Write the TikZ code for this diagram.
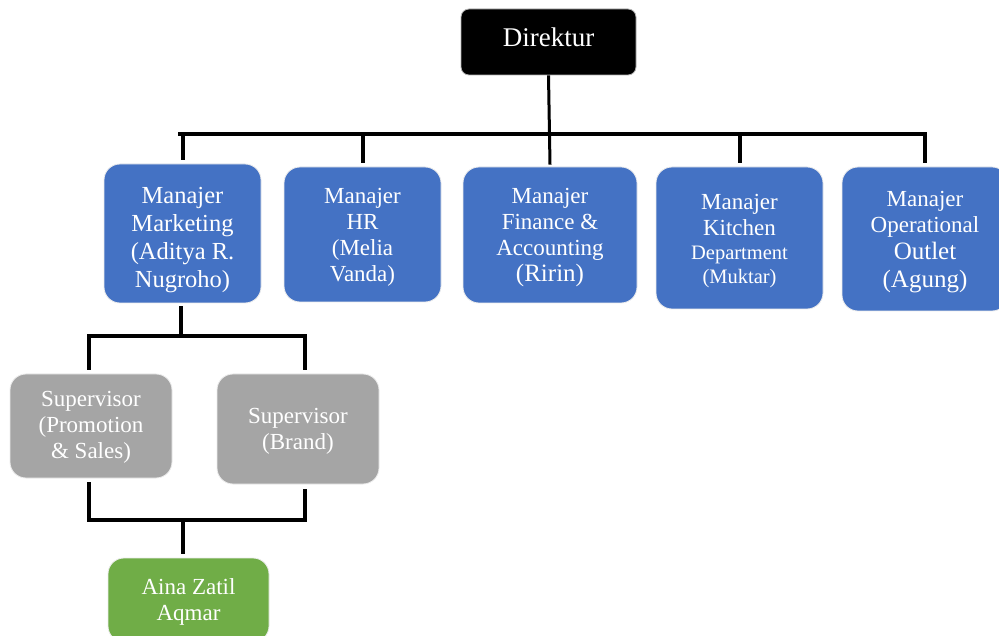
\documentclass[tikz,border=0pt]{standalone}
\usepackage{fontspec}
\setmainfont{Liberation Serif}
\usetikzlibrary{calc}
\definecolor{mblue}{HTML}{4472C4}
\definecolor{mgray}{HTML}{A5A5A5}
\definecolor{mgreen}{HTML}{70AD47}
\tikzset{
  box/.style={rounded corners=16pt, draw=white!85!gray, line width=0.8pt, inner sep=0pt},
  mgr/.style={box, fill=mblue},
  sup/.style={box, fill=mgray},
  staff/.style={box, fill=mgreen},
  txt/.style={text=white, align=center, inner sep=0pt, font=\fontsize{23}{26}\selectfont},
  conn/.style={line width=4pt, black}
}
\begin{document}
\begin{tikzpicture}[x=1pt,y=-1pt]
\useasboundingbox (0,0) rectangle (999,636);
\fill[white] (0,0) rectangle (999,636);

% boxes
\node[box, fill=black, draw=gray!60, rounded corners=8pt, minimum width=175pt, minimum height=66pt] (dir) at (548.5,42) {};
\node[mgr, minimum width=157pt, minimum height=139pt] (mkt) at (182.5,233.5) {};
\node[mgr, minimum width=157pt, minimum height=135pt] (hr) at (362.5,234.5) {};
\node[mgr, minimum width=174pt, minimum height=136pt] (fin) at (550,235) {};
\node[mgr, minimum width=167pt, minimum height=142pt] (kit) at (739.5,238) {};
\node[mgr, minimum width=166pt, minimum height=144pt] (op) at (925,239) {};
\node[sup, minimum width=162pt, minimum height=104pt] (sp) at (91,426) {};
\node[sup, minimum width=162pt, minimum height=110pt] (sb) at (298,429) {};
\node[staff, minimum width=161pt, minimum height=84pt] (aina) at (188.5,600) {};

% texts
\node[txt, font=\fontsize{27}{30}\selectfont] (dirT) at ($(dir.center)+(0,-5)$) {Direktur};
\node[txt, font=\fontsize{24.5}{28}\selectfont] (mktT) at ($(mkt.center)+(0,7)$)
  {Manajer\\Marketing\\(Aditya R.\\Nugroho)};
\node[txt] (hrT) at ($(hr.center)+(0,3)$) {Manajer\\HR\\(Melia\\Vanda)};
\node[txt] (finT) at ($(fin.center)+(0,3)$)
  {Manajer\\Finance \&\\Accounting\\{\fontsize{25}{28}\selectfont(Ririn)}};
\node[txt] (kitT) at ($(kit.center)+(0,3)$)
  {Manajer\\Kitchen\\[-2pt]{\fontsize{20.5}{24}\selectfont Department}\\[-2pt]{\fontsize{20.5}{24}\selectfont (Muktar)}};
\node[txt] (opT) at ($(op.center)+(0,3)$)
  {Manajer\\Operational\\[1pt]{\fontsize{25}{29}\selectfont Outlet}\\[2pt]{\fontsize{25}{29}\selectfont (Agung)}};
\node[txt] (spT) at ($(sp.center)+(0,1)$) {Supervisor\\(Promotion\\\& Sales)};
\node[txt] (sbT) at ($(sb.center)+(0,2)$) {Supervisor\\(Brand)};
\node[txt] (ainaT) at ($(aina.center)+(0,2)$) {Aina Zatil\\Aqmar};

% top bus
\coordinate (busL) at (178,134);
\coordinate (busR) at (927,134);
\draw[conn] (busL) -- (busR);
\draw[line width=3pt] (dir.south) -- ($(fin.north)+(0,-2)$);
\foreach \n in {mkt,hr,kit,op}{
  \draw[conn] (\n.north |- busL) -- ($(\n.north)+(0,-4)$);
}

% marketing to supervisors
\coordinate (mb) at (181,336);
\coordinate (s1) at (89,336);
\coordinate (s2) at (305,336);
\draw[conn] ($(mkt.south -| mb)+(0,3)$) -- (mb);
\draw[conn] ($(sp.north -| s1)+(0,-4)$) -- (s1) -- (s2) -- ($(sb.north -| s2)+(0,-4)$);

% supervisors to staff
\coordinate (t1) at (89,520);
\coordinate (t2) at (305,520);
\coordinate (tm) at (183,520);
\draw[conn] ($(sp.south -| t1)+(0,4)$) -- (t1) -- (t2) -- ($(sb.south -| t2)+(0,5)$);
\draw[conn] (tm) -- ($(aina.north -| tm)+(0,-4)$);
\end{tikzpicture}
\end{document}
